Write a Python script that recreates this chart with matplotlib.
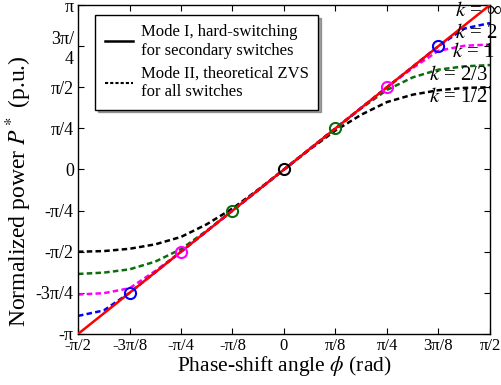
import numpy as np
import matplotlib
matplotlib.use("Agg")
import matplotlib.pyplot as plt

plt.rcParams['font.family'] = ['Liberation Serif', 'DejaVu Serif']
plt.rcParams['mathtext.fontset'] = 'stix'

# phase-shift angle samples, in units of pi
phi = [-0.5, -0.4375, -0.375, -0.3125, -0.25, -0.1875, -0.125, -0.0625, 0.0,
       0.0625, 0.125, 0.1875, 0.25, 0.3125, 0.375, 0.4375, 0.5]

# normalized power, in units of pi
p_half = [-0.5, -0.496, -0.482, -0.455, -0.41, -0.333, -0.237, -0.122, 0.0,
          0.122, 0.237, 0.333, 0.41, 0.455, 0.482, 0.496, 0.5]
p_two_thirds = [-0.635, -0.627, -0.607, -0.56, -0.484, -0.372, -0.25, -0.125, 0.0,
                0.125, 0.25, 0.372, 0.484, 0.56, 0.607, 0.627, 0.635]
p_one = [-0.76, -0.752, -0.722, -0.617, -0.5, -0.375, -0.25, -0.125, 0.0,
         0.125, 0.25, 0.375, 0.5, 0.617, 0.722, 0.752, 0.76]
p_two = [-0.89, -0.857, -0.75, -0.625, -0.5, -0.375, -0.25, -0.125, 0.0,
         0.125, 0.25, 0.375, 0.5, 0.625, 0.75, 0.857, 0.89]
p_inf = [-1.0, 1.0]
phi_inf = [-0.5, 0.5]

# boundary points (circles)
circ_x = {'k': [0.0], 'g': [-0.125, 0.125], 'm': [-0.25, 0.25], 'b': [-0.375, 0.375]}
circ_y = {'k': [0.0], 'g': [-0.25, 0.25], 'm': [-0.5, 0.5], 'b': [-0.75, 0.75]}

k_labels = ['$k$ = ∞', '$k$ = 2', '$k$ = 1', '$k$ = 2/3', '$k$ = 1/2']
k_label_x = [0.53, 0.518, 0.512, 0.496, 0.495]
k_label_y = [0.962, 0.829, 0.713, 0.573, 0.44]

xticklabels = ['-π/2', '-3π/8', '-π/4', '-π/8', '0', 'π/8', 'π/4', '3π/8', 'π/2']
yticklabels = ['-π', '-3π/4', '-π/2', '-π/4', '0', 'π/4', 'π/2', '3π/\n4', 'π']

pi = np.pi
fig = plt.figure(figsize=(5.01, 3.85), dpi=100)
ax = fig.add_axes([0.1557, 0.1325, 0.8223, 0.8545])

green = '#0a6e0a'
dash = (2.2, 1.3)
curves = [(p_half, 'black'), (p_two_thirds, green), (p_one, '#ff00ff'), (p_two, '#0000ff')]
for vals, c in curves:
    ax.plot(pi * np.array(phi), pi * np.array(vals), color=c, lw=1.8, dashes=dash)

ax.plot(pi * np.array(phi_inf), pi * np.array(p_inf), color='#ff0000', lw=1.8, zorder=3)

for key, c in [('k', 'black'), ('g', green), ('m', '#ff00ff'), ('b', '#0000ff')]:
    ax.plot(pi * np.array(circ_x[key]), pi * np.array(circ_y[key]), 'o', ms=8,
            mfc='none', mec=c, mew=1.5, zorder=4)

for t, x, y in zip(k_labels, k_label_x, k_label_y):
    ax.text(pi * x, pi * y, t, ha='right', va='center', fontsize=15, clip_on=False)

ax.set_xlim(-pi / 2, pi / 2)
ax.set_ylim(-pi, pi)
ax.set_xticks(pi * np.arange(-4, 5) / 8)
ax.set_xticklabels(xticklabels)
ax.set_yticks(pi * np.arange(-4, 5) / 4)
ax.set_yticklabels(yticklabels)
ax.tick_params(direction='in', top=True, right=True, length=4, pad=3)
ax.tick_params(axis='x', labelsize=12)
ax.tick_params(axis='y', labelsize=13)
for s in ax.spines.values():
    s.set_linewidth(1.0)

ax.set_xlabel('Phase-shift angle $\\phi$ (rad)', fontsize=15.5, labelpad=0)
ax.set_ylabel('Normalized power $P^*$ (p.u.)', fontsize=17, labelpad=0)
ax.yaxis.set_label_coords(-0.108, 0.435)

h1, = ax.plot([], [], color='black', lw=1.8)
h2, = ax.plot([], [], color='black', lw=1.5, dashes=(1.5, 1.0))
leg = ax.legend([h1, h2], ['Mode I, hard-switching\nfor secondary switches',
                           'Mode II, theoretical ZVS\nfor all switches'],
                loc='upper left', bbox_to_anchor=(0.03, 0.985), fontsize=12,
                fancybox=False, shadow=True, edgecolor='black', framealpha=1,
                handlelength=1.7, handletextpad=0.5, borderpad=0.55,
                labelspacing=0.45, borderaxespad=0.3)
leg.get_frame().set_linewidth(1.0)

fig.savefig('out.png', dpi=100)
